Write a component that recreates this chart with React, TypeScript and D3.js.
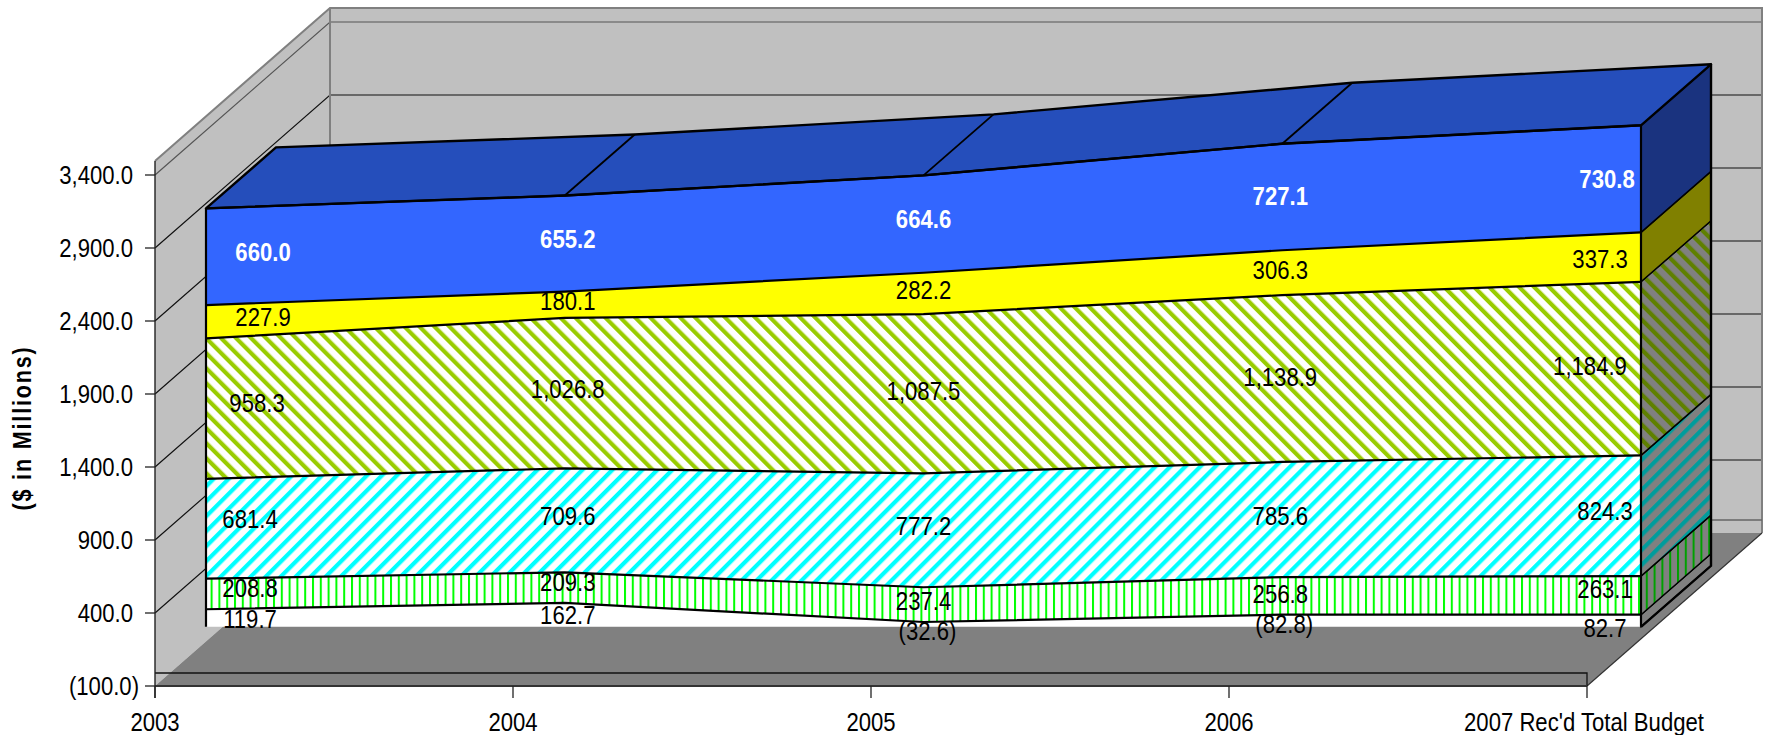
import React from "react";
import * as d3 from "d3";

// Budget by fund source, $ in millions. Categories run left to right, series bottom to top.
const years = ["2003", "2004", "2005", "2006", "2007 Rec'd Total Budget"];
const yTicks = [-100, 400, 900, 1400, 1900, 2400, 2900, 3400];

const other = [119.7, 162.7, -32.6, -82.8, 82.7];
const grants = [208.8, 209.3, 237.4, 256.8, 263.1];
const fees = [681.4, 709.6, 777.2, 785.6, 824.3];
const state = [958.3, 1026.8, 1087.5, 1138.9, 1184.9];
const reserves = [227.9, 180.1, 282.2, 306.3, 337.3];
const general = [660.0, 655.2, 664.6, 727.1, 730.8];

const seriesValues = [other, grants, fees, state, reserves, general];
const seriesKeys = ["other", "grants", "fees", "state", "reserves", "general"];

// Nudges that keep the value labels legible, relative to the centre of each band.
const labelDx = [
  [44, 3, 4, 2, -36],
  [44, 3, 0, -2, -36],
  [44, 3, 0, -2, -36],
  [51, 3, 0, -2, -51],
  [57, 3, 0, -2, -41],
  [57, 3, 0, -2, -34],
];
const labelDy = [
  [0.6, 0.4, 6.7, 3.6, 7],
  [-5.8, -5.1, -4, -2, -6],
  [-9.6, -4.5, -4.3, -3.7, -4.4],
  [-5.9, -3.9, -2.3, -1.9, -2.1],
  [-5, -3.8, -3.7, -2.3, 2],
  [-4.4, -4.9, -4.5, -1.2, 0],
];

const FONT = "'Liberation Sans', Arial, sans-serif";
const W = 1767;
const H = 735;

// Oblique projection: the room is 175 by -153 deep, the block sits part way in.
const roomDepth = { x: 175, y: -153 };
const blockInset = { x: 51, y: -44.6 };
const blockDepth = { x: 70, y: -61 };

const axisLeft = 155;
const axisRight = 1587;
const yAxis = d3.scaleLinear().domain([-100, 3400]).range([686, 175]);
const xAxis = d3.scalePoint<number>().domain([0, 1, 2, 3, 4]).range([axisLeft, axisRight]);
const xBlock = d3.scalePoint<number>().domain([0, 1, 2, 3, 4]).range([axisLeft + blockInset.x, 1641]);
const yBlock = d3.scaleLinear().domain([0, 3400]).range([626.8, 128.7]);

const rows = years.map((_, i) => {
  const row: Record<string, number> = {};
  seriesKeys.forEach((k, s) => {
    // Band heights stack on the magnitude of each value.
    row[k] = Math.abs(seriesValues[s][i]);
  });
  return row;
});
const stacked = d3.stack<Record<string, number>>().keys(seriesKeys)(rows);

const frontFills = [
  "#ffffff",
  "url(#hatchGreen)",
  "url(#hatchCyan)",
  "url(#hatchOlive)",
  "#ffff00",
  "#3366ff",
];
const sideFills = [
  "#808080",
  "url(#hatchGreenDark)",
  "url(#hatchCyanDark)",
  "url(#hatchOliveDark)",
  "#808000",
  "#1a337f",
];

const fmtNum = d3.format(",.1f");
const fmt = (v: number) => (v < 0 ? `(${fmtNum(-v)})` : fmtNum(v));

const poly = (pts: [number, number][]) => `M${pts.map((p) => p.join(",")).join("L")}Z`;
const lineGen = d3.line<[number, number]>();

function Label(props: { x: number; y: number; text: string; fill?: string; bold?: boolean; anchor?: string }) {
  const { x, y, text, fill = "#000", bold = false, anchor = "middle" } = props;
  return (
    <text
      transform={`translate(${x},${y}) scale(0.885,1)`}
      dy="0.358em"
      textAnchor={anchor}
      fontFamily={FONT}
      fontSize={25}
      fontWeight={bold ? 700 : 400}
      fill={fill}
    >
      {text}
    </text>
  );
}

function Hatch(props: { id: string; stripe: string; back: string; angle: number; period: number; width: number }) {
  const { id, stripe, back, angle, period, width } = props;
  return (
    <pattern
      id={id}
      patternUnits="userSpaceOnUse"
      width={period}
      height={period}
      patternTransform={`rotate(${angle})`}
    >
      <rect width={period} height={period} fill={back} />
      <rect x={0} width={width} height={period} fill={stripe} />
    </pattern>
  );
}

export default function App() {
  const floorBack = yAxis(-100) + roomDepth.y;
  const topBack = 8;
  const topFront = topBack - roomDepth.y;
  const rightWall = axisRight + roomDepth.x;
  const backLeft = axisLeft + roomDepth.x;

  const top = stacked[stacked.length - 1];
  const topFrontPts = years.map((_, i) => [xBlock(i)!, yBlock(top[i][1])] as [number, number]);
  const topBackPts = topFrontPts.map(([x, y]) => [x + blockDepth.x, y + blockDepth.y] as [number, number]);
  const last = years.length - 1;
  const xr = xBlock(last)!;

  return (
    <svg
      width={W}
      height={H}
      viewBox={`0 0 ${W} ${H}`}
      style={{ position: "absolute", left: 0, top: 0, background: "#fff" }}
    >
      <defs>
        <Hatch id="hatchOlive" stripe="#99cc00" back="#fff" angle={-45} period={10.6} width={4.2} />
        <Hatch id="hatchCyan" stripe="#00ffff" back="#fff" angle={45} period={10.6} width={4.2} />
        <Hatch id="hatchGreen" stripe="#00ff00" back="#fff" angle={0} period={7.8} width={2} />
        <Hatch id="hatchOliveDark" stripe="#5f8000" back="#808080" angle={-45} period={10.6} width={4.2} />
        <Hatch id="hatchCyanDark" stripe="#009c9c" back="#808080" angle={45} period={10.6} width={4.2} />
        <Hatch id="hatchGreenDark" stripe="#00a000" back="#808080" angle={0} period={7.8} width={2} />
      </defs>

      {/* Room walls */}
      <path
        d={poly([
          [axisLeft, topFront],
          [backLeft, topBack],
          [backLeft, floorBack],
          [axisLeft, yAxis(-100)],
        ])}
        fill="#c0c0c0"
      />
      <rect x={backLeft} y={topBack} width={rightWall - backLeft} height={floorBack - topBack} fill="#c0c0c0" />

      {/* Gridlines across both walls */}
      {yTicks.map((t) => {
        const y = yAxis(t);
        return (
          <g key={t} stroke={t === 3400 ? "#555" : "#111"} fill="none" strokeWidth={1.2}>
            {t > -100 && (
              <path
                d={
                  lineGen([
                    [axisLeft, y],
                    [backLeft, y + roomDepth.y],
                    [rightWall, y + roomDepth.y],
                  ])!
                }
              />
            )}
          </g>
        );
      })}

      {/* Room outline */}
      <path
        d={
          lineGen([
            [axisLeft, topFront],
            [backLeft, topBack],
            [rightWall, topBack],
            [rightWall, floorBack],
          ])!
        }
        fill="none"
        stroke="#808080"
        strokeWidth={2}
      />
      <line x1={backLeft} x2={backLeft} y1={topBack} y2={floorBack} stroke="#808080" strokeWidth={2} />

      {/* Floor slab */}
      <path
        d={poly([
          [axisLeft, yAxis(-100)],
          [backLeft, floorBack],
          [rightWall, floorBack],
          [axisRight, yAxis(-100)],
        ])}
        fill="#808080"
      />
      <line x1={axisRight} y1={yAxis(-100)} x2={rightWall} y2={floorBack} stroke="#333" strokeWidth={1.2} />
      <line x1={backLeft} x2={rightWall} y1={yAxis(-100) + roomDepth.y - 13} y2={yAxis(-100) + roomDepth.y - 13} stroke="#666" strokeWidth={1.5} />
      <path
        d={
          lineGen([
            [axisLeft, yAxis(-100) - 13],
            [axisRight, yAxis(-100) - 13],
            [axisRight, yAxis(-100)],
          ])!
        }
        fill="none"
        stroke="#111"
        strokeWidth={1.3}
      />
      <line x1={axisLeft} x2={axisRight} y1={yAxis(-100)} y2={yAxis(-100)} stroke="#333" strokeWidth={2} />

      {/* Axes */}
      <line x1={axisLeft} x2={axisLeft} y1={topFront} y2={698} stroke="#222" strokeWidth={1.4} />
      {yTicks.map((t) => (
        <g key={t}>
          <line x1={145} x2={axisLeft} y1={yAxis(t)} y2={yAxis(t)} stroke="#222" strokeWidth={1.3} />
          <Label x={t < 0 ? 139 : 133} y={yAxis(t)} text={fmt(t)} anchor="end" />
        </g>
      ))}
      {years.map((year, i) => (
        <g key={year}>
          <line x1={xAxis(i)!} x2={xAxis(i)!} y1={yAxis(-100)} y2={698} stroke="#222" strokeWidth={1.3} />
          <Label x={i === last ? xAxis(i)! - 3 : xAxis(i)!} y={722} text={year} />
        </g>
      ))}

      {/* Front faces of the stacked bands */}
      {stacked.map((band, s) => {
        const area = d3
          .area<d3.SeriesPoint<Record<string, number>>>()
          .x((_, i) => xBlock(i)!)
          .y0((d) => yBlock(d[0]))
          .y1((d) => yBlock(d[1]));
        return <path key={s} d={area(band)!} fill={frontFills[s]} />;
      })}

      {/* Right-hand faces of the stacked bands */}
      {stacked.map((band, s) => {
        const y0 = yBlock(band[last][0]);
        const y1 = yBlock(band[last][1]);
        return (
          <path
            key={s}
            d={poly([
              [xr, y0],
              [xr + blockDepth.x, y0 + blockDepth.y],
              [xr + blockDepth.x, y1 + blockDepth.y],
              [xr, y1],
            ])}
            fill={sideFills[s]}
            stroke="#000"
            strokeWidth={1.4}
          />
        );
      })}

      {/* Top face with its category divisions */}
      <path d={poly([...topFrontPts, ...[...topBackPts].reverse()])} fill="#254ebb" stroke="#000" strokeWidth={2.4} strokeLinejoin="round" />
      {topFrontPts.slice(1, -1).map((p, i) => (
        <line key={i} x1={p[0]} y1={p[1]} x2={topBackPts[i + 1][0]} y2={topBackPts[i + 1][1]} stroke="#000" strokeWidth={1.8} />
      ))}

      {/* Band boundaries on the front */}
      {stacked.map((band, s) => (
        <path
          key={s}
          d={lineGen(band.map((d, i) => [xBlock(i)!, yBlock(d[1])] as [number, number]))!}
          fill="none"
          stroke="#000"
          strokeWidth={2.2}
        />
      ))}

      {/* Block outline */}
      <line x1={xBlock(0)!} x2={xBlock(0)!} y1={yBlock(0)} y2={topFrontPts[0][1]} stroke="#000" strokeWidth={2.2} />
      <line x1={xr} x2={xr} y1={yBlock(0)} y2={topFrontPts[last][1]} stroke="#000" strokeWidth={2.2} />
      <path
        d={
          lineGen([
            [xr, yBlock(0)],
            [xr + blockDepth.x, yBlock(0) + blockDepth.y],
            [xr + blockDepth.x, topBackPts[last][1]],
          ])!
        }
        fill="none"
        stroke="#000"
        strokeWidth={2.4}
      />

      {/* Value labels */}
      {stacked.map((band, s) =>
        band.map((d, i) => (
          <Label
            key={`${s}-${i}`}
            x={xBlock(i)! + labelDx[s][i]}
            y={yBlock((d[0] + d[1]) / 2) + labelDy[s][i]}
            text={fmt(seriesValues[s][i])}
            fill={s === 5 ? "#fff" : "#000"}
            bold={s === 5}
          />
        ))
      )}

      {/* Axis title */}
      <text
        transform="translate(31,428) rotate(-90) scale(0.83,1)"
        textAnchor="middle"
        fontFamily={FONT}
        fontSize={26}
        fontWeight={700}
        letterSpacing={2.2}
        fill="#000"
      >
        ($ in Millions)
      </text>
    </svg>
  );
}
